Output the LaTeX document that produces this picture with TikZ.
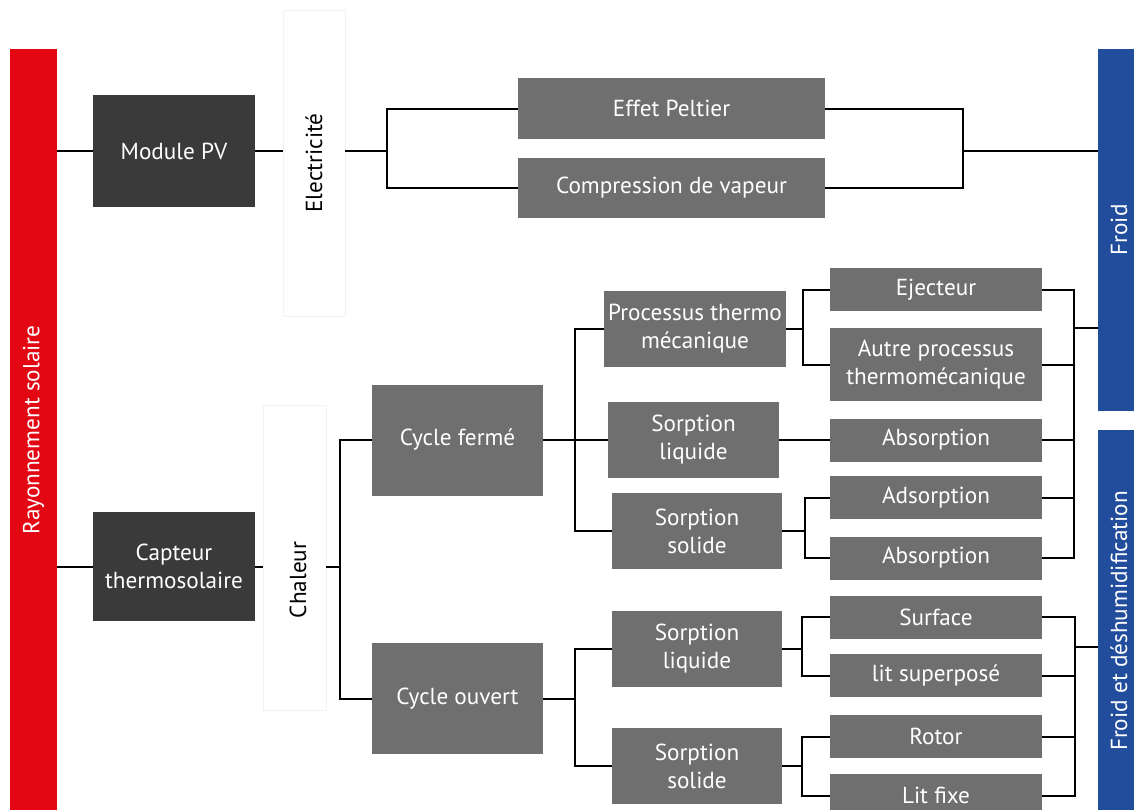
\documentclass[tikz,border=0pt]{standalone}
\usepackage{fontspec}
\setmainfont{PT Sans}
\definecolor{soleil}{HTML}{E30613}
\definecolor{bleufroid}{HTML}{214D9C}
\definecolor{boxdark}{HTML}{3A3A3A}
\definecolor{boxgrey}{HTML}{6F6F6F}

\begin{document}
\begin{tikzpicture}[x=0.5pt, y=-0.5pt,
  every node/.style={inner sep=0pt, align=center, font=\fontsize{11.6}{14}\selectfont},
  dark/.style={fill=boxdark, text=white, minimum width=81pt, minimum height=56pt},
  grey/.style={fill=boxgrey, text=white},
  mid/.style={grey, minimum width=85.5pt, minimum height=38pt},
  leaf/.style={grey, minimum width=106pt, minimum height=21.5pt},
  panel/.style={draw=black!5, fill=white, minimum width=31pt},
  redbar/.style={fill=soleil, minimum width=23.5pt},
  bluebar/.style={fill=bleufroid, minimum width=21pt},
  vtext/.style={rotate=90},
  wire/.style={line width=1pt}]
  \useasboundingbox (0,0) rectangle (1134,809);

  \node[redbar, minimum height=381pt] (ray) at (33.5,430) {};
  \node[vtext, text=white] (rayt) at (ray) {Rayonnement solaire};
  \node[bluebar, minimum height=181pt] (fr) at (1119,230) {};
  \node[vtext, text=white] (frt) at (fr) {Froid};
  \node[bluebar, minimum height=191pt] (fd) at (1119,621) {};
  \node[vtext, text=white] (fdt) at (fd) {Froid et déshumidification};

  \node[dark] (pv) at (174,151) {Module PV};
  \node[dark, minimum height=54.5pt] (cap) at (174,566.5) {Capteur\\thermosolaire};

  \node[panel, minimum height=153pt] (elec) at (314,163) {};
  \node[vtext] (elect) at (elec) {Electricité};
  \node[panel, minimum width=31.5pt, minimum height=152.5pt] (chal) at (294.5,557.5) {};
  \node[vtext] (chalt) at (298,580) {Chaleur};

  \node[grey, minimum width=153.5pt, minimum height=30.5pt] (peltier) at (671.5,108.5) {Effet Peltier};
  \node[grey, minimum width=153.5pt, minimum height=30pt] (compr) at (671.5,188) {Compression de vapeur};

  \node[grey, minimum width=85.5pt, minimum height=55.5pt] (cf) at (457.5,440) {Cycle fermé};
  \node[grey, minimum width=85.5pt, minimum height=55.5pt] (co) at (457.5,698.5) {Cycle ouvert};

  \node[mid, minimum width=91pt] (ptm) at (695,329) {Processus thermo\\mécanique};
  \node[mid] (slf) at (693.5,440) {Sorption\\liquide};
  \node[mid, minimum width=85pt] (ssf) at (697,531) {Sorption\\solide};
  \node[mid, minimum width=85pt] (slo) at (697,649) {Sorption\\liquide};
  \node[mid, minimum width=85pt] (sso) at (697,766) {Sorption\\solide};

  \node[leaf] (ej) at (936,289.5) {Ejecteur};
  \node[leaf, minimum height=36.5pt] (autre) at (936,364.5) {Autre processus\\thermomécanique};
  \node[leaf] (abs1) at (936,440) {Absorption};
  \node[leaf] (ads) at (936,497.5) {Adsorption};
  \node[leaf] (abs2) at (936,558) {Absorption};
  \node[leaf] (surf) at (936,617) {Surface};
  \node[leaf] (lit) at (936,675.5) {lit superposé};
  \node[leaf] (rot) at (936,736.5) {Rotor};
  \node[leaf] (fixe) at (936,795.5) {Lit fixe};

  \coordinate (jE) at (387,151);
  \coordinate (jF) at (963,151);
  \coordinate (jC) at (340,566.5);
  \coordinate (jK) at (575,440);
  \coordinate (jO) at (575,698.5);
  \coordinate (jP) at (803,329);
  \coordinate (jS) at (805,531);
  \coordinate (jL) at (802,649);
  \coordinate (jR) at (802,766);
  \coordinate (jA) at (1074,328);
  \coordinate (jB) at (1075,647);

  \draw[wire] (ray.east |- pv.west) -- (pv.west);
  \draw[wire] (pv.east) -- (pv.east -| elec.west);
  \draw[wire] (pv.east -| elec.east) -- (jE);
  \draw[wire] (peltier.west) -| (jE) |- (compr.west);
  \draw[wire] (peltier.east) -| (jF) |- (compr.east);
  \draw[wire] (jF) -- (jF -| fr.west);

  \draw[wire] (ray.east |- cap.west) -- (cap.west);
  \draw[wire] (cap.east) -- (cap.east -| chal.west);
  \draw[wire] (cap.east -| chal.east) -- (jC);
  \draw[wire] (cf.west) -| (jC) |- (co.west);

  \draw[wire] (cf.east) -- (slf.west);
  \draw[wire] (ptm.west) -| (jK) |- (ssf.west);
  \draw[wire] (slf.east) -- (abs1.west);
  \draw[wire] (ptm.east) -- (jP);
  \draw[wire] (ej.west) -| (jP) |- (autre.west);
  \draw[wire] (ssf.east) -- (jS);
  \draw[wire] (ads.west) -| (jS) |- (abs2.west);

  \draw[wire] (co.east) -- (jO);
  \draw[wire] (slo.west) -| (jO) |- (sso.west);
  \draw[wire] (slo.east) -- (jL);
  \draw[wire] (surf.west) -| (jL) |- (lit.west);
  \draw[wire] (sso.east) -- (jR);
  \draw[wire] (rot.west) -| (jR) |- (fixe.west);

  \draw[wire] (ej.east) -| (jA) |- (abs2.east);
  \foreach \n in {autre,abs1,ads}
    \draw[wire] (\n.east) -- (\n.east -| jA);
  \draw[wire] (jA) -- (jA -| fr.west);
  \draw[wire] (surf.east) -| (jB) |- (fixe.east);
  \foreach \n in {lit,rot}
    \draw[wire] (\n.east) -- (\n.east -| jB);
  \draw[wire] (jB) -- (jB -| fd.west);
\end{tikzpicture}
\end{document}
